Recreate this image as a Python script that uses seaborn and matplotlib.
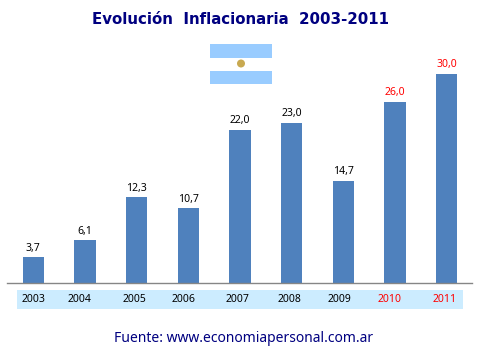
import matplotlib
matplotlib.use("Agg")
import matplotlib.pyplot as plt
from matplotlib.patches import Rectangle, Circle
import pandas as pd
import seaborn as sns

# === Data ===
years = ["2003", "2004", "2005", "2006", "2007", "2008", "2009", "2010", "2011"]
inflation = [3.7, 6.1, 12.3, 10.7, 22.0, 23.0, 14.7, 26.0, 30.0]
value_labels = ["3,7", "6,1", "12,3", "10,7", "22,0", "23,0", "14,7", "26,0", "30,0"]
red_years = ["2010", "2011"]

# === Layout (pixels of the 480x360 picture) ===
W, H = 480, 360
year_label_x = [33.5, 79, 134, 184, 237, 289, 339, 390, 445]

sns.set_theme(style="white")
plt.rcParams["font.family"] = ["Noto Sans", "DejaVu Sans"]

df = pd.DataFrame({"year": years, "inflation": inflation})

fig = plt.figure(figsize=(4.8, 3.6), dpi=100)
ax = fig.add_axes([7.5 / W, 1 - 283 / H, 465 / W, 223 / H])
sns.barplot(data=df, x="year", y="inflation", color="#4F81BD", saturation=1, width=0.41,
            linewidth=0, ax=ax)
ax.set_xlim(-0.5, 8.5)
ax.set_ylim(0, 223 / 6.97)

for i, (val, lab) in enumerate(zip(inflation, value_labels)):
    col = "red" if years[i] in red_years else "black"
    ax.annotate(lab, (i, val), xytext=(0, 2.5), textcoords="offset points",
                ha="center", va="bottom", fontsize=7.5, color=col)

ax.set_xlabel("")
ax.set_ylabel("")
ax.set_yticks([])
ax.set_xticks([])
for s in ["top", "left", "right"]:
    ax.spines[s].set_visible(False)
ax.spines["bottom"].set_color("#868686")
ax.spines["bottom"].set_linewidth(1.0)

# overlay in pixel coordinates for the band and the flag
ov = fig.add_axes([0, 0, 1, 1], zorder=5)
ov.set_xlim(0, W)
ov.set_ylim(H, 0)
ov.axis("off")
ov.patch.set_alpha(0)

ov.add_patch(Rectangle((17, 289.5), 446, 19.5, color="#CCECFF", lw=0))
for y, name in zip(year_label_x, years):
    ov.text(y, 299.5, name, ha="center", va="center", fontsize=7.5,
            color="red" if name in red_years else "black")

ov.add_patch(Rectangle((210, 44), 62, 13.5, color="#99CCFF", lw=0))
ov.add_patch(Rectangle((210, 70.5), 62, 13.5, color="#99CCFF", lw=0))
ov.add_patch(Circle((241, 63.5), 4, color="#C8A951", lw=0))

ov.text(240, 20, "Evolución  Inflacionaria  2003-2011", ha="center", va="center",
        fontsize=10.8, fontweight="bold", color="#000080", family="DejaVu Sans")
ov.text(243.5, 339, "Fuente: www.economiapersonal.com.ar", ha="center", va="center",
        fontsize=10, color="#000080")

fig.savefig("out.png", dpi=100, facecolor="white")
